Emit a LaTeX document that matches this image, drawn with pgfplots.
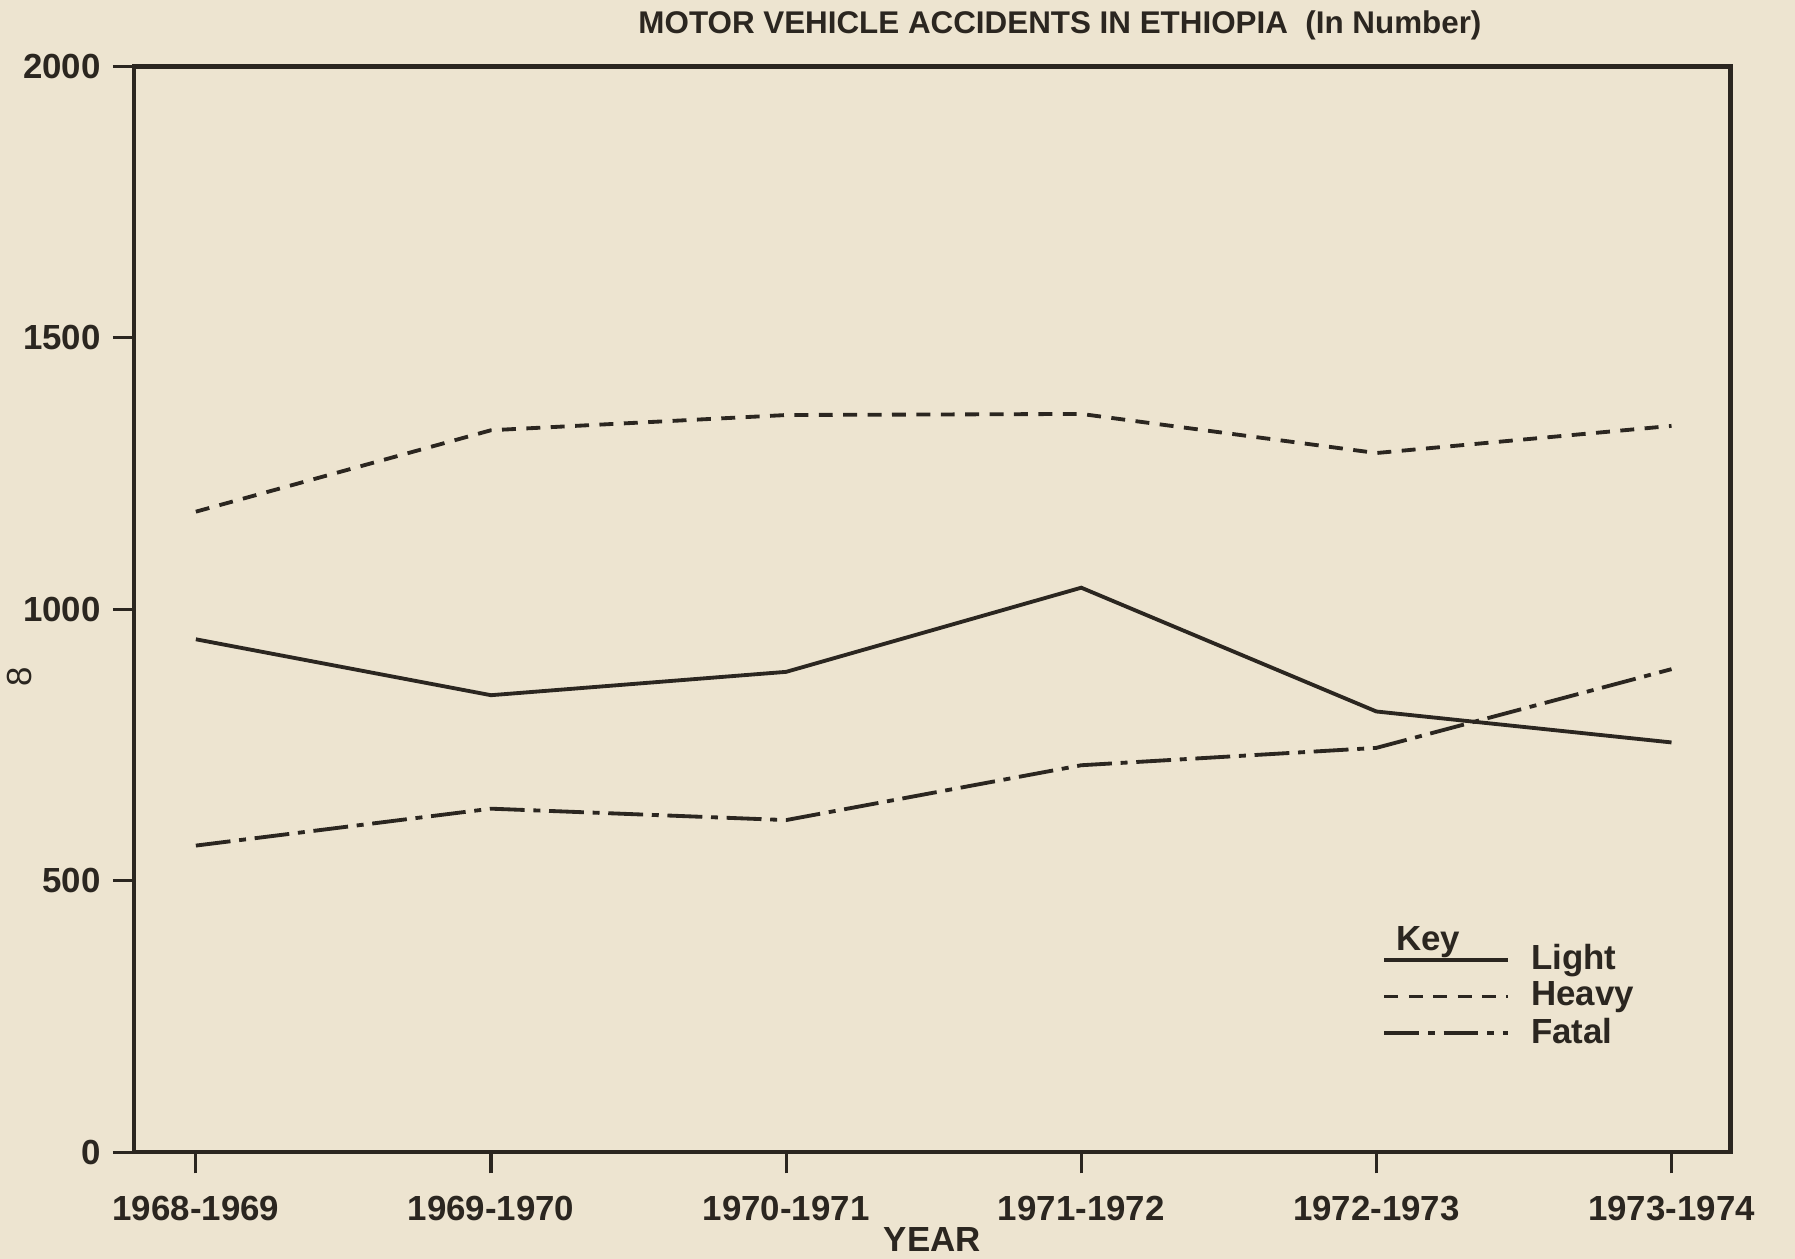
\documentclass[border=0pt]{standalone}
\usepackage{pgfplots}
\pgfplotsset{compat=1.18}
\usepackage{fontspec}
\setmainfont{Liberation Sans}
\definecolor{paper}{HTML}{EDE4D0}
\definecolor{ink}{HTML}{2B2620}
\begin{document}
\begin{tikzpicture}
\fill[paper] (-1.35cm,-1.2cm) rectangle (16.75cm,11.8cm);
\begin{axis}[
  at={(0,0)}, anchor=south west,
  scale only axis, width=16.1cm, height=10.95cm,
  xmin=-0.21, xmax=5.2, ymin=0, ymax=2000,
  xtick={0,1,2,3,4,5},
  xticklabels={1968-1969,1969-1970,1970-1971,1971-1972,1972-1973,1973-1974},
  ytick={0,500,1000,1500,2000},
  tick align=outside, tick pos=left,
  major tick length=6pt,
  axis line style={ink, line width=1.2pt},
  every tick/.style={ink, line width=0.9pt},
  ticklabel style={font=\bfseries, text=ink},
  xticklabel style={yshift=-3pt},
  /pgf/number format/assume math mode=true,
  /pgf/number format/1000 sep={},
  xlabel={YEAR}, xlabel style={font=\bfseries, text=ink, yshift=5pt},
  title={MOTOR VEHICLE ACCIDENTS IN ETHIOPIA \ (In Number)},
  title style={font=\bfseries\small, text=ink, at={(axis description cs:0.58,1.0)}, anchor=south, inner sep=1.5pt},
  legend style={at={(axis description cs:0.775,0.205)}, anchor=north west,
    draw=none, fill=none, font=\bfseries, text=ink, row sep=-2pt,
    legend cell align=left},
  legend image code/.code={\draw[#1, line width=1.1pt] (0cm,0cm) -- (1.25cm,0cm);},
]
\addplot[ink, line width=1.1pt] coordinates {(0,945) (1,842) (2,885) (3,1040) (4,812) (5,755)};
\addlegendentry{\hspace{4pt}Light}
\addplot[ink, line width=1.1pt, dash pattern=on 4pt off 3pt] coordinates {(0,1180) (1,1330) (2,1358) (3,1360) (4,1288) (5,1338)};
\addlegendentry{\hspace{4pt}Heavy}
\addplot[ink, line width=1.1pt, dash pattern=on 10pt off 2.5pt on 2pt off 2.5pt] coordinates {(0,565) (1,633) (2,612) (3,713) (4,745) (5,890)};
\addlegendentry{\hspace{4pt}Fatal}
\end{axis}
\node[font=\bfseries, text=ink, anchor=south, inner sep=1pt] at (13.05cm,1.92cm) {Key};
\node[font=\normalsize, text=ink, rotate=90] at (-1.15cm,4.8cm) {8};
\pgfresetboundingbox
\path[use as bounding box] (-1.35cm,-1.07cm) rectangle (16.75cm,11.62cm);
\end{tikzpicture}
\end{document}
